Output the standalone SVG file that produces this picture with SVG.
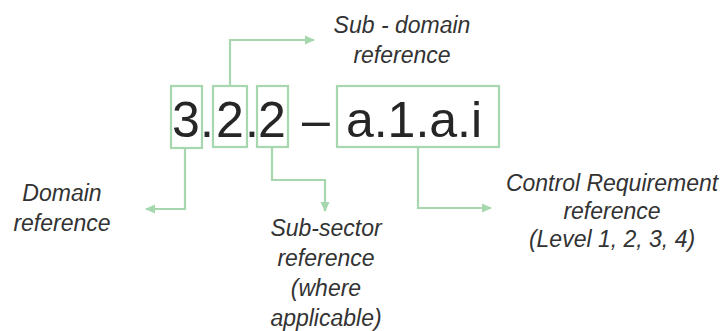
<svg xmlns="http://www.w3.org/2000/svg" width="724" height="331" viewBox="0 0 724 331">
<style>
.box{fill:none;stroke:#a6d7ae;stroke-width:2.2}
.con{fill:none;stroke:#a6d7ae;stroke-width:2.2}
.big{font-family:"Liberation Sans",Arial,sans-serif;font-size:50px;fill:#262626}
.lbl{font-family:"Liberation Sans",Arial,sans-serif;font-style:italic;font-size:23px;fill:#333333;text-anchor:middle}
</style>
<defs>
<marker id="arr" markerUnits="userSpaceOnUse" markerWidth="10" markerHeight="10" viewBox="0 0 10 10" refX="9" refY="5" orient="auto">
<path d="M0,0.5 L10,5 L0,9.5 Z" fill="#a6d7ae"/>
</marker>
</defs>
<rect width="724" height="331" fill="#ffffff"/>
<g id="code">
<text class="big" x="186" y="137" text-anchor="middle">3</text>
<text class="big" x="207" y="137" text-anchor="middle">.</text>
<text class="big" x="230" y="137" text-anchor="middle">2</text>
<text class="big" x="252" y="137" text-anchor="middle">.</text>
<text class="big" x="272" y="137" text-anchor="middle">2</text>
<text class="big" x="316" y="137" text-anchor="middle">–</text>
<text class="big" x="414" y="137" text-anchor="middle">a.1.a.i</text>
</g>
<g id="box-domain"><rect class="box" x="171" y="86" width="31" height="62"/></g>
<g id="box-subdomain"><rect class="box" x="213" y="86" width="34" height="61"/></g>
<g id="box-subsector"><rect class="box" x="257" y="86" width="31" height="61"/></g>
<g id="box-control"><rect class="box" x="337" y="86" width="162" height="61"/></g>
<g id="connectors">
<path class="con" d="M230 86 V40 H314" marker-end="url(#arr)"/>
<path class="con" d="M185 148 V209 H146" marker-end="url(#arr)"/>
<path class="con" d="M272 147 V180 H325 V211" marker-end="url(#arr)"/>
<path class="con" d="M418 147 V208 H491" marker-end="url(#arr)"/>
</g>
<g id="label-subdomain">
<text class="lbl" x="402" y="33">Sub - domain</text>
<text class="lbl" x="402" y="63">reference</text>
</g>
<g id="label-domain">
<text class="lbl" x="62" y="201">Domain</text>
<text class="lbl" x="62" y="231">reference</text>
</g>
<g id="label-subsector">
<text class="lbl" x="326" y="236">Sub-sector</text>
<text class="lbl" x="326" y="266">reference</text>
<text class="lbl" x="326" y="296">(where</text>
<text class="lbl" x="326" y="326">applicable)</text>
</g>
<g id="label-control">
<text class="lbl" x="612" y="191">Control Requirement</text>
<text class="lbl" x="612" y="219">reference</text>
<text class="lbl" x="612" y="247">(Level 1, 2, 3, 4)</text>
</g>
</svg>
